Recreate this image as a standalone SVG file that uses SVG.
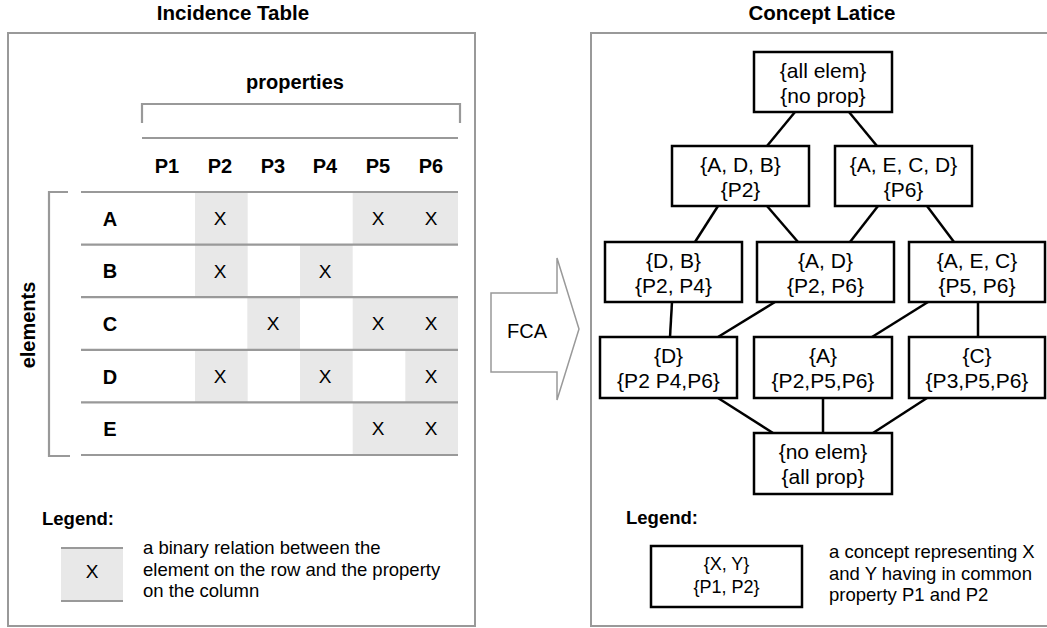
<svg xmlns="http://www.w3.org/2000/svg" width="1047" height="628" viewBox="0 0 1047 628">
<style>
text{font-family:"Liberation Sans",Arial,sans-serif;fill:#000}
.title{font-size:20.5px;font-weight:bold;text-anchor:middle}
.b{font-size:20px;font-weight:bold;text-anchor:middle}
.x{font-size:19px;text-anchor:middle}
.leg{font-size:18.5px;font-weight:bold}
.desc{font-size:18.5px}
.nt{font-size:21px;text-anchor:middle}
.lt{font-size:18px;text-anchor:middle}
.panel{fill:#fff;stroke:#999;stroke-width:2}
.gl{stroke:#999;stroke-width:2.2;fill:none}
.cell{fill:#e8e8e8}
.node{fill:#fff;stroke:#000;stroke-width:2.5}
.edge{stroke:#000;stroke-width:2.5;fill:none}
</style>
<rect width="1047" height="628" fill="#fff"/>
<text class="title" x="233" y="20">Incidence Table</text>
<text class="title" x="822" y="20">Concept Latice</text>
<rect class="panel" x="8" y="33" width="467" height="593"/>
<rect class="panel" x="591" y="33" width="480" height="593"/>

<g id="incidence-table">
<text class="b" x="295" y="89">properties</text>
<path class="gl" d="M142,123 V104 H460 V123"/>
<line class="gl" x1="142" y1="138" x2="458" y2="138"/>
<g class="b">
<text x="167" y="173">P1</text><text x="220" y="173">P2</text><text x="273" y="173">P3</text>
<text x="325" y="173">P4</text><text x="378" y="173">P5</text><text x="431" y="173">P6</text>
</g>
<g>
<rect class="cell" x="195" y="192" width="52.7" height="105.2"/>
<rect class="cell" x="352.7" y="192" width="105.3" height="52.6"/>
<rect class="cell" x="300" y="244.6" width="52.7" height="52.6"/>
<rect class="cell" x="247.3" y="297.2" width="52.7" height="52.6"/>
<rect class="cell" x="352.7" y="297.2" width="105.3" height="52.6"/>
<rect class="cell" x="195" y="349.8" width="52.7" height="52.6"/>
<rect class="cell" x="300" y="349.8" width="52.7" height="52.6"/>
<rect class="cell" x="405.3" y="349.8" width="52.7" height="52.6"/>
<rect class="cell" x="352.7" y="402.4" width="105.3" height="52.6"/>
</g>
<g class="gl">
<line x1="81" y1="192" x2="458" y2="192"/>
<line x1="81" y1="244.6" x2="458" y2="244.6"/>
<line x1="81" y1="297.2" x2="458" y2="297.2"/>
<line x1="81" y1="349.8" x2="458" y2="349.8"/>
<line x1="81" y1="402.4" x2="458" y2="402.4"/>
<line x1="81" y1="455" x2="458" y2="455"/>
</g>
<g class="b">
<text x="110" y="226">A</text><text x="110" y="278">B</text><text x="110" y="331">C</text>
<text x="110" y="384">D</text><text x="110" y="436">E</text>
</g>
<g class="x">
<text x="220" y="225">X</text><text x="378" y="225">X</text><text x="431" y="225">X</text>
<text x="220" y="278">X</text><text x="325" y="278">X</text>
<text x="273" y="330">X</text><text x="378" y="330">X</text><text x="431" y="330">X</text>
<text x="220" y="383">X</text><text x="325" y="383">X</text><text x="431" y="383">X</text>
<text x="378" y="435">X</text><text x="431" y="435">X</text>
</g>
<path class="gl" d="M68,192 H49 V456 H70"/>
<text class="b" transform="translate(35,325) rotate(-90)">elements</text>
</g>

<g id="legend-left">
<text class="leg" x="42" y="525">Legend:</text>
<rect class="cell" x="61" y="548" width="62" height="53"/>
<line class="gl" x1="61" y1="548" x2="123" y2="548"/>
<line class="gl" x1="61" y1="601" x2="123" y2="601"/>
<text class="x" x="92" y="578">X</text>
<text class="desc" x="143" y="554">a binary relation between the</text>
<text class="desc" x="143" y="575.5">element on the row and the property</text>
<text class="desc" x="143" y="597">on the column</text>
</g>

<g id="fca-arrow">
<polygon points="491,293 557,293 557,258 579,329 557,400 557,372 491,372" fill="#fff" stroke="#999" stroke-width="1.5"/>
<text x="527" y="338" font-size="20" text-anchor="middle">FCA</text>
</g>

<g id="connectors">
<line class="edge" x1="795" y1="112" x2="767" y2="146"/>
<line class="edge" x1="849" y1="112" x2="877" y2="146"/>
<line class="edge" x1="718" y1="206" x2="695" y2="242"/>
<line class="edge" x1="767" y1="206" x2="798" y2="242"/>
<line class="edge" x1="878" y1="206" x2="850" y2="242"/>
<line class="edge" x1="927" y1="206" x2="954" y2="242"/>
<line class="edge" x1="672" y1="302" x2="670" y2="337"/>
<line class="edge" x1="775" y1="302" x2="718" y2="337"/>
<line class="edge" x1="928" y1="302" x2="872" y2="337"/>
<line class="edge" x1="978" y1="302" x2="978" y2="337"/>
<line class="edge" x1="718" y1="398" x2="773" y2="433"/>
<line class="edge" x1="823" y1="398" x2="823" y2="433"/>
<line class="edge" x1="927" y1="398" x2="873" y2="433"/>
</g>

<g id="n-top"><rect class="node" x="754" y="52" width="138" height="60"/><text class="nt" x="823" y="78">{all elem}</text><text class="nt" x="823" y="103">{no prop}</text></g>
<g id="n-ADB"><rect class="node" x="672" y="146" width="137" height="60"/><text class="nt" x="740.5" y="172">{A, D, B}</text><text class="nt" x="740.5" y="197">{P2}</text></g>
<g id="n-AECD"><rect class="node" x="835" y="146" width="137" height="60"/><text class="nt" x="903.5" y="172">{A, E, C, D}</text><text class="nt" x="903.5" y="197">{P6}</text></g>
<g id="n-DB"><rect class="node" x="605" y="242" width="137" height="60"/><text class="nt" x="673.5" y="268">{D, B}</text><text class="nt" x="673.5" y="293">{P2, P4}</text></g>
<g id="n-AD"><rect class="node" x="757" y="242" width="137" height="60"/><text class="nt" x="825.5" y="268">{A, D}</text><text class="nt" x="825.5" y="293">{P2, P6}</text></g>
<g id="n-AEC"><rect class="node" x="909" y="242" width="136" height="60"/><text class="nt" x="977" y="268">{A, E, C}</text><text class="nt" x="977" y="293">{P5, P6}</text></g>
<g id="n-D"><rect class="node" x="600" y="337" width="137" height="61"/><text class="nt" x="668.5" y="363">{D}</text><text class="nt" x="668.5" y="388">{P2 P4,P6}</text></g>
<g id="n-A"><rect class="node" x="754" y="337" width="138" height="61"/><text class="nt" x="823" y="363">{A}</text><text class="nt" x="823" y="388">{P2,P5,P6}</text></g>
<g id="n-C"><rect class="node" x="909" y="337" width="136" height="61"/><text class="nt" x="977" y="363">{C}</text><text class="nt" x="977" y="388">{P3,P5,P6}</text></g>
<g id="n-bottom"><rect class="node" x="754" y="433" width="138" height="61"/><text class="nt" x="823" y="459">{no elem}</text><text class="nt" x="823" y="484">{all prop}</text></g>

<g id="legend-right">
<text class="leg" x="626" y="524">Legend:</text>
<rect class="node" x="651" y="546" width="151" height="61"/>
<text class="lt" x="726.5" y="570">{X, Y}</text>
<text class="lt" x="726.5" y="593">{P1, P2}</text>
<text class="desc" x="829" y="558">a concept representing X</text>
<text class="desc" x="829" y="580">and Y having in common</text>
<text class="desc" x="829" y="601">property P1 and P2</text>
</g>
</svg>
